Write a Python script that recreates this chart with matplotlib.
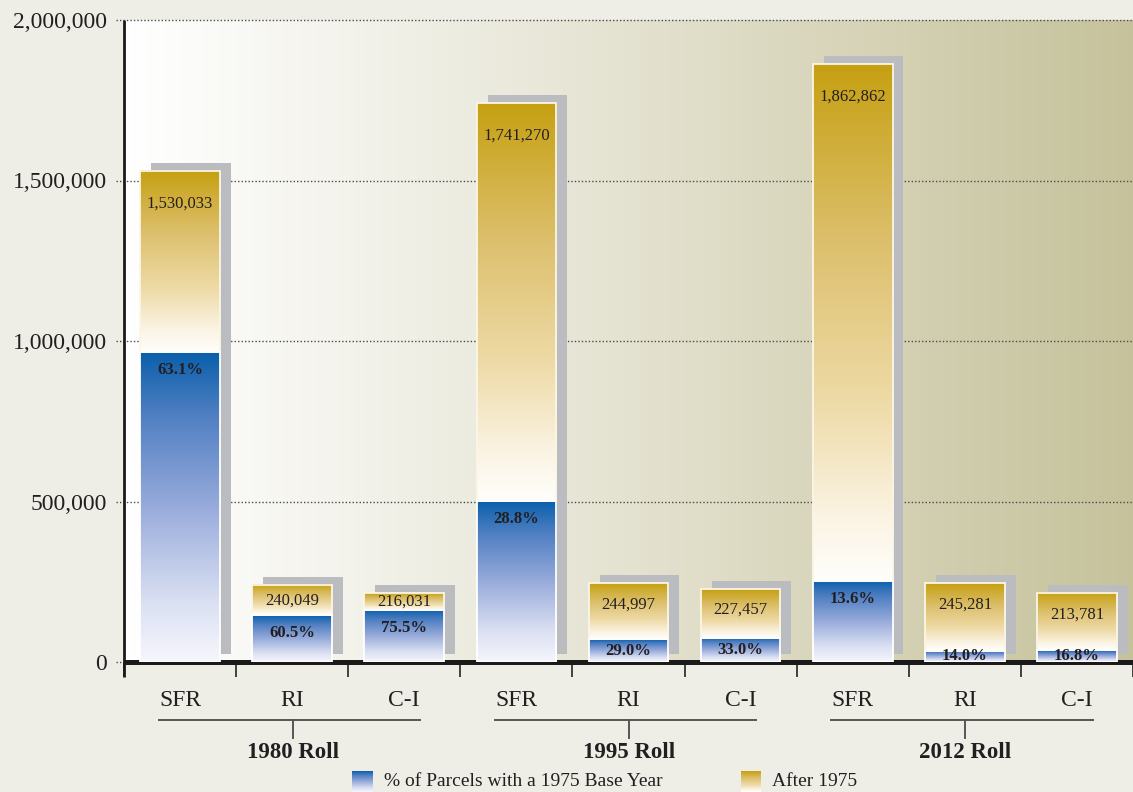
import numpy as np
import matplotlib
matplotlib.use('Agg')
import matplotlib.pyplot as plt
from matplotlib.colors import LinearSegmentedColormap
from matplotlib.patches import Rectangle
import matplotlib.transforms as mtransforms

# ---------------- data ----------------
rolls = ['1980 Roll', '1995 Roll', '2012 Roll']
categories = ['SFR', 'RI', 'C-I']
totals = [1530033, 240049, 216031, 1741270, 244997, 227457, 1862862, 245281, 213781]
pct_1975 = [63.1, 60.5, 75.5, 28.8, 29.0, 33.0, 13.6, 14.0, 16.8]
y_ticks = [0, 500000, 1000000, 1500000, 2000000]
legend_labels = ['% of Parcels with a 1975 Base Year', 'After 1975']

# ---------------- style ----------------
plt.rcParams['font.family'] = ['Liberation Serif', 'DejaVu Serif']
TXT = '#231f20'
W, H = 1133, 792
fig = plt.figure(figsize=(W / 100, H / 100), dpi=100)
fig.patch.set_facecolor('#efeee6')

left_px, right_px, top_px, base_px = 124, W, 20, 662
slot_px = 112.7
ax = fig.add_axes([left_px / W, 1 - base_px / H, (right_px - left_px) / W, (base_px - top_px) / H])
xmin, xmax = -0.5, -0.5 + (right_px - left_px) / slot_px
ymax = 2000000
px_per_y = (base_px - top_px) / ymax

bg_cmap = LinearSegmentedColormap.from_list(
    'bg', [(0, '#ffffff'), (0.3, '#efeee4'), (0.6, '#dedbc5'), (1.0, '#c4c19a')])
gold_cmap = LinearSegmentedColormap.from_list(
    'gold', [(0, '#fffefb'), (0.12, '#fbf4e4'), (0.35, '#eedaa6'), (0.65, '#ddc06e'), (1.0, '#c6a012')])
blue_cmap = LinearSegmentedColormap.from_list(
    'blue', [(0, '#f6f6fc'), (0.2, '#d9dff2'), (0.5, '#98abdb'), (0.8, '#4f7fc2'), (1.0, '#0a5fab')])

grad_h = np.linspace(0, 1, 256)[None, :]
grad_v = np.linspace(0, 1, 256)[:, None]

ax.imshow(grad_h, extent=(xmin, xmax + 0.2, 0, ymax), aspect='auto', cmap=bg_cmap,
          origin='lower', zorder=0, interpolation='bilinear')

# gridlines (dotted, extending slightly left of the axis)
blend_ay = mtransforms.blended_transform_factory(ax.transAxes, ax.transData)
for yv in y_ticks:
    ax.plot([-8 / (right_px - left_px), 1], [yv, yv], transform=blend_ay,
            ls=(0, (1, 1.5)), color='#4a4a4a', lw=1.0, clip_on=False, zorder=1)

bar_w = 80 / slot_px
dx = 11 / slot_px
dy = 8 / px_per_y

# baseline
ax.plot([0, 1], [0, 0], transform=blend_ay, color='#1a1a1a', lw=3.6,
        solid_capstyle='butt', clip_on=False, zorder=3)

for i, (tot, pct) in enumerate(zip(totals, pct_1975)):
    blue = tot * pct / 100.0
    x0, x1 = i - bar_w / 2, i + bar_w / 2
    # shadow
    ax.add_patch(Rectangle((x0 + dx, dy), bar_w, tot, facecolor='#bbbcc0', edgecolor='none', zorder=2))
    # gold segment
    ax.imshow(grad_v, extent=(x0, x1, blue, tot), aspect='auto', cmap=gold_cmap,
              origin='lower', zorder=4, interpolation='bilinear')
    # blue segment
    ax.imshow(grad_v, extent=(x0, x1, 0, blue), aspect='auto', cmap=blue_cmap,
              origin='lower', zorder=4, interpolation='bilinear')
    ax.add_patch(Rectangle((x0, blue), bar_w, tot - blue, fill=False, edgecolor='#fbf6e6', lw=1.3, zorder=5))
    ax.add_patch(Rectangle((x0, 0), bar_w, blue, fill=False, edgecolor='white', lw=1.3, zorder=5))

    gold_px = (tot - blue) * px_per_y
    blue_px = blue * px_per_y
    off_t = min(33 if tot > 1000000 else 21, gold_px / 2)
    ax.annotate(f'{tot:,}', xy=(i, tot), xytext=(0, -off_t), textcoords='offset pixels',
                ha='center', va='center', fontsize=12, color=TXT, zorder=6)
    off_p = min(18, blue_px / 2)
    ax.annotate(f'{pct:.1f}%', xy=(i, blue), xytext=(0, -off_p), textcoords='offset pixels',
                ha='center', va='center', fontsize=12, fontweight='bold', color=TXT, zorder=6)

ax.set_xlim(xmin, xmax)
ax.set_ylim(0, ymax)
for s in ax.spines.values():
    s.set_visible(False)

# y axis line extending below baseline
ax.plot([0, 0], [-15 / (base_px - top_px), 1], transform=ax.transAxes, color='#1a1a1a',
        lw=2.0, clip_on=False, zorder=7, solid_capstyle='butt')

ax.set_yticks(y_ticks)
ax.set_yticklabels([f'{v:,}' for v in y_ticks], fontsize=17, color=TXT)
ax.tick_params(axis='y', length=0, pad=12)
bounds = [k - 0.5 for k in range(len(totals) + 1)]
ax.set_xticks(bounds)
ax.set_xticklabels([''] * len(bounds))
ax.tick_params(axis='x', length=11, width=1.3, color='#333333', direction='out')

blend_df = mtransforms.blended_transform_factory(ax.transData, fig.transFigure)
for i in range(len(totals)):
    fig.text(i, 1 - 700 / H, categories[i % 3], transform=blend_df, ha='center', va='center',
             fontsize=17, color=TXT)
for g, roll in enumerate(rolls):
    a, b = 3 * g - 0.19, 3 * g + 2.14
    c = (a + b) / 2 + 0.03
    ax.plot([a, b], [1 - 720 / H] * 2, transform=blend_df, color='#555555', lw=1.4, clip_on=False)
    ax.plot([c, c], [1 - 720 / H, 1 - 738 / H], transform=blend_df, color='#555555', lw=1.4, clip_on=False)
    fig.text(c, 1 - 753 / H, roll, transform=blend_df, ha='center', va='center',
             fontsize=16.5, fontweight='bold', color=TXT)

# legend
for (lx, tx, cmap, lab) in [(352, 384, blue_cmap, legend_labels[0]), (741, 772, gold_cmap, legend_labels[1])]:
    lax = fig.add_axes([lx / W, 0, 20 / W, 21 / H])
    lax.imshow(grad_v, extent=(0, 1, 0, 1), aspect='auto', cmap=cmap, origin='lower')
    lax.set_axis_off()
    fig.text(tx / W, 1 - 781 / H, lab, ha='left', va='center', fontsize=14, color=TXT)

fig.savefig('out.png', dpi=100, facecolor=fig.get_facecolor())
